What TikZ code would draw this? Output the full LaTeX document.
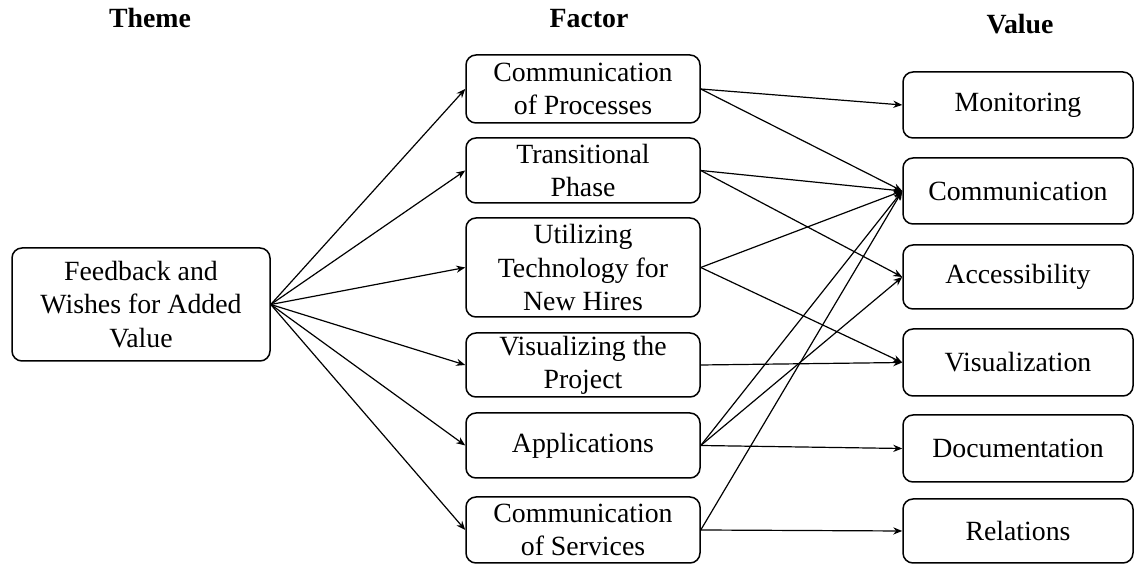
\documentclass[tikz,border=0pt]{standalone}
\usepackage{fontspec}
\setmainfont{Liberation Serif}
\usetikzlibrary{arrows.meta}
\begin{document}
\begin{tikzpicture}[x=0.5pt,y=-0.5pt,
  box/.style={draw, line width=0.75pt, rounded corners=5pt, align=center,
    inner sep=0pt, font=\fontsize{13.9}{16.6}\selectfont},
  head/.style={anchor=base, font=\fontsize{13.9}{16.6}\selectfont\bfseries},
  link/.style={line width=0.6pt, -{Stealth[length=4.5pt,width=3.6pt]}}]
\useasboundingbox (0,0) rectangle (1135,565);

% column headings
\node[head] (hTheme)  at (150,28) {Theme};
\node[head] (hFactor) at (589,28) {Factor};
\node[head] (hValue)  at (1020,34) {Value};

% theme
\node[box, minimum width=129pt, minimum height=56.5pt] (theme) at (141,304.5)
  {Feedback and\\Wishes for Added\\Value};

% factors
\begin{scope}[every node/.append style={box, minimum width=117pt}]
\node[minimum height=34pt]   (fp) at (583,89)    {Communication\\of Processes};
\node[minimum height=32.5pt] (ft) at (583,170.5) {Transitional\\Phase};
\node[minimum height=49.5pt] (fu) at (583,267.5) {Utilizing\\Technology for\\New Hires};
\node[minimum height=32pt]   (fv) at (583,365)   {Visualizing the\\Project};
\node[minimum height=32.5pt] (fa) at (583,445.5) {Applications};
\node[minimum height=33pt]   (fs) at (583,530)   {Communication\\of Services};
\end{scope}

% values
\begin{scope}[every node/.append style={box, minimum width=115pt}]
\node[minimum height=33pt]   (vm) at (1018,105)   {Monitoring};
\node[minimum height=33pt]   (vc) at (1018,191)   {Communication};
\node[minimum height=32pt]   (va) at (1018,277)   {Accessibility};
\node[minimum height=33.5pt] (vv) at (1018,362.5) {Visualization};
\node[minimum height=33.5pt] (vd) at (1018,448.5) {Documentation};
\node[minimum height=32pt]   (vr) at (1018,531)   {Relations};
\end{scope}

% theme to factors
\foreach \f in {fp,ft,fu,fv,fa,fs}
  \draw[link] (theme.east) -- (\f.west);

% factors to values
\draw[link] (fp.east) -- (vm.west);
\draw[link] (fp.east) -- (vc.west);
\draw[link] (ft.east) -- (vc.west);
\draw[link] (ft.east) -- (va.west);
\draw[link] (fu.east) -- (vc.west);
\draw[link] (fu.east) -- (vv.west);
\draw[link] (fv.east) -- (vv.west);
\draw[link] (fa.east) -- (vc.west);
\draw[link] (fa.east) -- (va.west);
\draw[link] (fa.east) -- (vd.west);
\draw[link] (fs.east) -- (vc.west);
\draw[link] (fs.east) -- (vr.west);
\end{tikzpicture}
\end{document}
